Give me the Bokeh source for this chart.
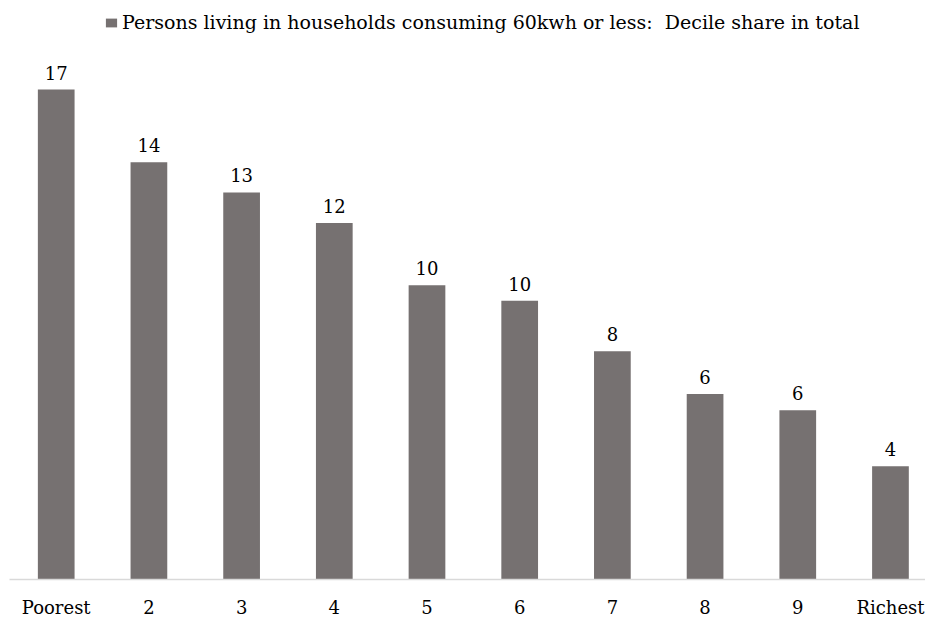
from bokeh.plotting import figure
from bokeh.models import Range1d, Legend, LegendItem, ColumnDataSource, FixedTicker
from bokeh.core.properties import value
from bokeh.embed import file_html
from bokeh.resources import INLINE

categories = ["Poorest", "2", "3", "4", "5", "6", "7", "8", "9", "Richest"]
shares = [17.0, 14.48, 13.43, 12.37, 10.21, 9.67, 7.92, 6.44, 5.87, 3.93]
series_name = "Persons living in households consuming 60kwh or less:  Decile share in total"

FONT = "DejaVu Serif"
BAR = "#767171"

xs = list(range(len(categories)))
labels = [f"{v:.0f}" for v in shares]
src = ColumnDataSource(dict(x=xs, top=shares, lab=labels))

p = figure(width=925, height=620, output_backend="svg", toolbar_location=None,
           x_range=Range1d(-0.504, 9.378), y_range=Range1d(0, 20.09),
           min_border_left=9, min_border_right=0, min_border_top=0, min_border_bottom=39)
p.outline_line_color = None
p.grid.visible = False
p.yaxis.visible = False
p.background_fill_color = "white"
p.border_fill_color = "white"

r = p.vbar(x="x", top="top", width=0.396, bottom=0, source=src,
           fill_color=BAR, line_color=None)
p.text(x="x", y="top", text="lab", source=src, text_align="center",
       text_baseline="alphabetic", y_offset=-17, text_font=value(FONT),
       text_font_size="18px", text_color="black")

ax = p.xaxis[0]
ax.ticker = FixedTicker(ticks=xs)
ax.major_label_overrides = {i: c for i, c in enumerate(categories)}
ax.axis_line_color = "#d9d9d9"
ax.axis_line_width = 1.5
ax.major_tick_line_color = None
ax.minor_tick_line_color = None
ax.major_tick_out = 0
ax.major_tick_in = 0
ax.minor_tick_out = 0
ax.minor_tick_in = 0
ax.major_label_standoff = 17
ax.major_label_text_font = FONT
ax.major_label_text_font_size = "18px"
ax.major_label_text_color = "black"

legend = Legend(items=[LegendItem(label=series_name, renderers=[r])],
                location=(95, 546), orientation="horizontal",
                glyph_width=14, glyph_height=11, label_standoff=4,
                padding=0, margin=0, spacing=0,
                border_line_color=None, background_fill_alpha=0,
                label_text_font=FONT, label_text_font_size="19px",
                label_text_color="black")
p.add_layout(legend, "center")

open("out.html", "w").write(file_html(p, INLINE))
